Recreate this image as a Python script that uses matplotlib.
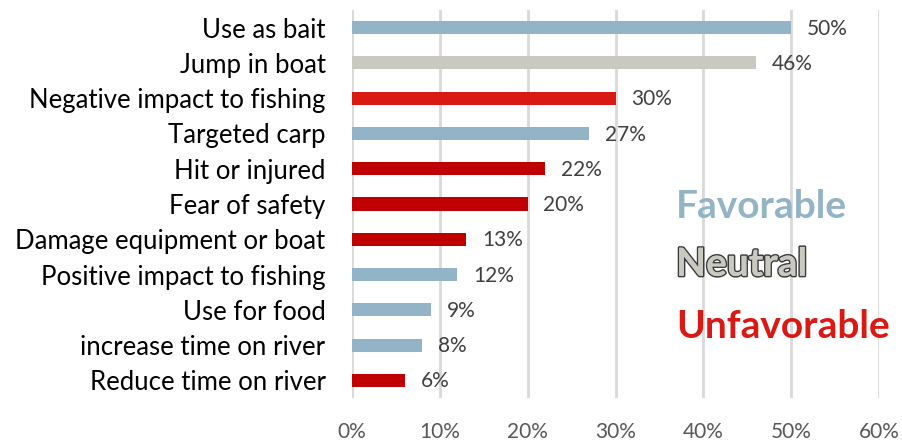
import matplotlib.pyplot as plt
import matplotlib.patheffects as pe
from matplotlib.ticker import PercentFormatter

plt.rcParams['font.family'] = ['Lato', 'DejaVu Sans']

# survey responses, top to bottom
labels = ['Use as bait', 'Jump in boat', 'Negative impact to fishing', 'Targeted carp',
          'Hit or injured', 'Fear of safety', 'Damage equipment or boat',
          'Positive impact to fishing', 'Use for food', 'increase time on river',
          'Reduce time on river']
values = [50, 46, 30, 27, 22, 20, 13, 12, 9, 8, 6]
groups = ['fav', 'neu', 'unf2', 'fav', 'unf', 'unf', 'unf', 'fav', 'fav', 'fav', 'unf']

blue = '#93B3C6'
grey = '#C9C9C1'
red = '#D91A14'
dark_red = '#C00000'
colors = {'fav': blue, 'neu': grey, 'unf': dark_red, 'unf2': red}

fig = plt.figure(figsize=(9.03, 4.41), dpi=100)
ax = fig.add_axes([352 / 903, 1 - 398 / 441, (879 - 352) / 903, (398 - 10) / 441])

y = list(range(len(labels)))
fracs = [v / 100 for v in values]
ax.barh(y, fracs, height=0.37, color=[colors[g] for g in groups], zorder=3)

for yi, f, v in zip(y, fracs, values):
    ax.text(f + 0.018, yi + 0.03, f'{v}%', va='center', ha='left', fontsize=15, color='#404040')

ax.set_xlim(0, 0.6)
ax.set_ylim(10.5, -0.5)
ax.set_xticks([0, 0.1, 0.2, 0.3, 0.4, 0.5, 0.6])
ax.xaxis.set_major_formatter(PercentFormatter(1.0, decimals=0))
ax.set_yticks(y)
ax.set_yticklabels(labels, fontsize=18.5, color='black')
ax.tick_params(axis='x', length=0, labelsize=15, labelcolor='#595959', pad=17)
ax.tick_params(axis='y', length=0, pad=19)
ax.grid(axis='x', color='#D9D9D9', linewidth=2, zorder=0)
for s in ax.spines.values():
    s.set_visible(False)

# category key
ax.text(0.369, 5.07, 'Favorable', fontsize=28, fontweight='bold', color=blue, va='center')
ax.text(0.369, 6.71, 'Neutral', fontsize=28, fontweight='bold', color=grey, va='center',
        path_effects=[pe.withStroke(linewidth=2.2, foreground='#3A3A3A'), pe.Normal()])
ax.text(0.369, 8.47, 'Unfavorable', fontsize=28, fontweight='bold', color=red, va='center')

fig.savefig('out.png', dpi=100)
